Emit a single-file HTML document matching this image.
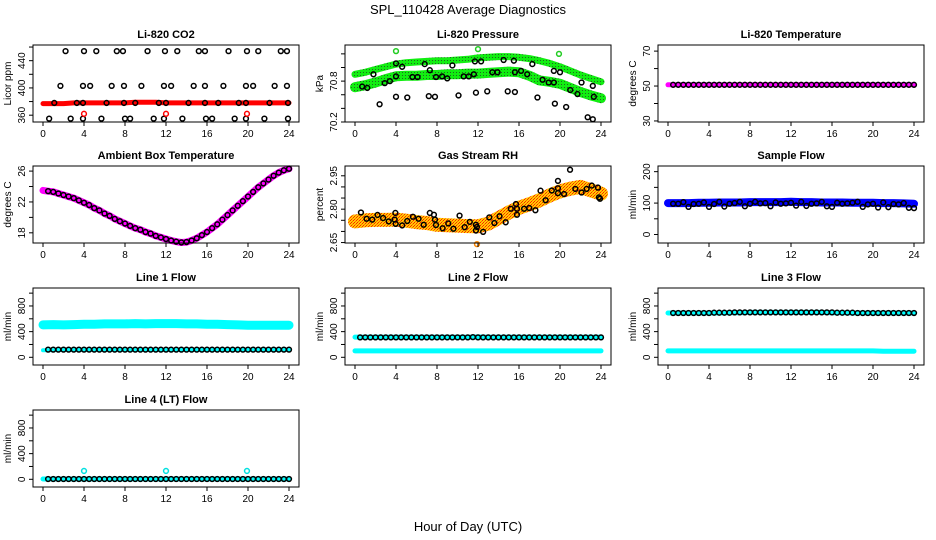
<!DOCTYPE html>
<html><head><meta charset="utf-8">
<style>
html,body{margin:0;padding:0;background:#fff;}
svg{display:block;font-family:"Liberation Sans",sans-serif;}
</style></head>
<body>
<svg id="chart" width="936" height="540" viewBox="0 0 936 540">
<defs>
<pattern id="pg" width="3" height="3" patternUnits="userSpaceOnUse"><rect width="3" height="3" fill="#11ee11"/><rect width="1" height="1" fill="#226622"/></pattern>
<pattern id="po" width="3" height="3" patternUnits="userSpaceOnUse"><rect width="3" height="3" fill="#ffcc00"/><rect width="1" height="1" fill="#ff2200"/><rect x="2" y="1" width="1" height="1" fill="#ff2200"/><rect x="1" y="2" width="1" height="1" fill="#ff6600"/></pattern>
</defs>
<text x="468" y="14" text-anchor="middle" font-size="13">SPL_110428  Average Diagnostics</text>
<text x="468" y="531" text-anchor="middle" font-size="13">Hour of Day (UTC)</text>
</svg>
<script>
// ---- data ----
const H25 = [0,1,2,3,4,5,6,7,8,9,10,11,12,13,14,15,16,17,18,19,20,21,22,23,24];
const H49 = [0,0.5,1,1.5,2,2.5,3,3.5,4,4.5,5,5.5,6,6.5,7,7.5,8,8.5,9,9.5,10,10.5,11,11.5,12,12.5,13,13.5,14,14.5,15,15.5,16,16.5,17,17.5,18,18.5,19,19.5,20,20.5,21,21.5,22,22.5,23,23.5,24];
const H48 = H49.slice(1);

const co2Band = [377,377,377,378,378,378,378,378,378,379,379,379,378,378,378,378,378,378,378,378,378,378,378,378,378];
const co2Hours = [2.2,4.0,5.2,7.2,7.8,10.2,11.9,13.1,15.2,15.8,18.1,19.9,21.0,23.2,23.8,
 1.7,3.9,4.6,6.7,7.9,9.6,11.8,12.5,14.7,15.8,17.6,19.8,20.5,22.6,23.8,
 1.1,3.3,3.9,6.2,7.9,9.0,11.3,12.0,14.2,15.8,17.1,19.1,19.8,22.1,23.9,
 0.6,2.7,3.9,5.7,8.0,8.5,10.8,11.8,13.6,15.9,16.5,18.7,19.8,21.6,23.9];
const co2Vals = [454,454,454,454,454,454,454,454,454,454,454,454,454,454,454,
 403,403,403,403,403,403,403,403,403,403,403,403,403,403,403,
 378,378,378,378,378,378,378,378,378,378,378,378,378,378,378,
 355,355,355,355,355,355,355,355,355,355,355,355,355,355,355];
const co2RedHours = [4.0,12.0,19.9];
const co2RedVals = [362,362,362];

const presUpper = [70.90,70.93,70.97,71.01,71.05,71.07,71.08,71.09,71.10,71.10,71.11,71.12,71.14,71.15,71.16,71.16,71.15,71.13,71.10,71.06,71.01,70.95,70.89,70.84,70.79];
const presLower = [70.71,70.74,70.78,70.83,70.87,70.88,70.88,70.89,70.89,70.90,70.90,70.91,70.91,70.92,70.93,70.94,70.93,70.88,70.81,70.79,70.76,70.70,70.64,70.59,70.55];
const presHours = [0.7,1.2,1.8,2.4,2.9,3.4,4.0,4.0,4.0,4.6,5.1,5.6,6.1,6.8,7.2,7.3,7.8,7.9,8.5,9.0,9.5,10.1,10.6,11.1,11.6,11.7,11.8,12.3,12.9,13.4,13.9,14.5,14.9,15.5,15.6,15.6,16.2,16.8,17.3,17.8,18.3,18.9,19.4,19.4,19.5,20.0,20.6,21.0,21.7,22.1,22.7,23.2,23.2,23.3];
const presVals = [70.72,70.70,70.90,70.46,70.77,70.80,71.06,70.87,70.57,71.01,70.56,70.86,70.86,71.05,70.58,70.96,70.57,70.86,70.87,70.84,71.03,70.59,70.87,70.87,70.90,71.09,70.63,71.09,70.65,70.93,70.93,71.11,70.65,71.10,70.93,70.64,70.95,70.90,71.05,70.56,70.82,70.78,70.78,70.95,70.47,70.93,70.42,70.67,70.61,70.78,70.27,70.24,70.73,70.57];
const presGreenHours = [4.0,12.0,19.9];
const presGreenVals = [71.24,71.27,71.20];

const licorTemp = [50.7,50.7,50.7,50.7,50.7,50.7,50.7,50.7,50.7,50.7,50.7,50.7,50.7,50.7,50.7,50.7,50.7,50.7,50.7,50.7,50.7,50.7,50.7,50.7,50.7,50.7,50.7,50.7,50.7,50.7,50.7,50.7,50.7,50.7,50.7,50.7,50.7,50.7,50.7,50.7,50.7,50.7,50.7,50.7,50.7,50.7,50.7,50.7,50.7];

const ambTemp = [23.5,23.4,23.3,23.1,22.9,22.7,22.5,22.2,21.9,21.6,21.2,20.9,20.5,20.2,19.8,19.5,19.2,18.9,18.6,18.4,18.1,17.9,17.6,17.4,17.2,17.0,16.85,16.75,16.8,17.0,17.3,17.7,18.1,18.6,19.1,19.7,20.3,20.9,21.5,22.1,22.7,23.3,23.9,24.4,24.9,25.4,25.8,26.1,26.3];

const rhBand = [2.745,2.750,2.752,2.752,2.753,2.748,2.742,2.738,2.730,2.728,2.726,2.724,2.723,2.735,2.760,2.785,2.806,2.822,2.840,2.862,2.880,2.892,2.900,2.885,2.870];
const rhHours = [0.58,1.13,1.68,2.2,2.74,3.29,3.87,3.94,3.97,4.6,5.1,5.65,6.2,6.7,7.3,7.7,7.8,7.9,8.55,9.1,9.6,10.2,10.7,11.2,11.8,11.9,11.8,12.5,13.1,13.6,14.1,14.7,15.2,15.7,15.8,15.8,16.5,17.0,17.6,18.1,18.6,19.2,19.8,19.8,19.8,20.4,20.98,21.5,22.1,22.6,23.1,23.7,23.8,23.9];
const rhVals = [2.785,2.757,2.753,2.774,2.760,2.745,2.753,2.783,2.734,2.727,2.747,2.766,2.757,2.730,2.783,2.775,2.753,2.729,2.714,2.736,2.712,2.771,2.719,2.743,2.730,2.720,2.704,2.698,2.763,2.738,2.768,2.741,2.802,2.823,2.775,2.802,2.802,2.805,2.795,2.883,2.840,2.884,2.927,2.894,2.872,2.868,2.977,2.891,2.875,2.891,2.906,2.897,2.853,2.847];
const rhOrangeHours = [11.9];
const rhOrangeVals = [2.643];

const sampleBand = [100,100,100,101,101,102,102,102,103,103,103,103,104,103,103,102,102,102,101,101,101,100,100,99,98];
const sampleCircles = [98,98,103,88,97,98,102,88,97,104,89,98,100,104,90,98,104,99,100,90,102,98,99,101,92,104,91,98,99,104,90,88,101,98,99,101,104,88,96,98,86,102,87,97,96,100,85,84,96];

const l1Upper = [505,510,505,510,515,515,520,520,520,525,520,525,525,525,520,520,515,515,510,505,500,500,500,500,500];
const l1Lower = [110,112,115,115,115,115,115,115,115,115,115,115,115,115,115,115,115,115,115,115,115,115,115,115,115];
const l1Circles = [120,120,120,120,120,120,120,120,120,120,120,120,120,120,120,120,120,120,120,120,120,120,120,120,120,120,120,120,120,120,120,120,120,120,120,120,120,120,120,120,120,120,120,120,120,120,120,120];

const l2Upper = [315,315,315,315,315,315,315,315,315,315,315,315,318,315,315,315,315,315,315,315,315,315,315,315,315];
const l2Lower = [100,100,100,100,100,100,100,100,100,100,100,100,100,100,100,100,100,100,100,100,100,100,100,100,100];
const l2Circles = [310,310,310,310,310,310,310,310,310,310,310,310,310,310,310,310,310,310,310,310,310,310,315,310,310,310,310,310,310,310,310,310,310,310,310,310,310,310,310,310,310,310,310,310,310,310,310,310];

const l3Upper = [690,690,690,690,690,690,695,695,700,700,700,700,700,700,700,700,695,695,690,690,690,690,690,690,690];
const l3Lower = [100,100,100,100,100,100,100,100,100,100,100,100,100,100,100,100,100,100,100,100,100,95,95,95,95];
const l3Circles = [690,690,690,690,690,690,690,690,695,695,695,695,700,700,700,700,700,700,700,700,700,700,700,700,700,700,700,700,700,700,700,700,695,695,695,695,690,690,690,690,690,690,690,690,690,690,690,690];

const l4Band = [5,5,5,5,5,5,5,5,5,5,5,5,5,5,5,5,5,5,5,5,5,5,5,5,5];
const l4Circles = [5,5,5,5,5,5,5,5,5,5,5,5,5,5,5,5,5,5,5,5,5,5,5,5,5,5,5,5,5,5,5,5,5,5,5,5,5,5,5,5,5,5,5,5,5,5,5,5];
const l4CyanHours = [4.0,12.0,19.9];
const l4CyanVals = [130,130,130];

const xTicks = [0,4,8,12,16,20,24];

// ---- drawing ----
const NS = "http://www.w3.org/2000/svg";
const svg = document.getElementById('chart');
const COLS = [33,345,658];
const ROWS = [45,166,288,410];
const BW = 266, BH = 77;
function mk(tag, attrs, parent){
  const e = document.createElementNS(NS, tag);
  for (const k in attrs) e.setAttribute(k, attrs[k]);
  (parent||svg).appendChild(e);
  return e;
}
function panel(p){
  const L = COLS[p.col], T = ROWS[p.row];
  const g = mk('g', {});
  
  
  const xs = h => L + 10 + h * (BW - 20) / 24;
  const ys = v => T + BH - (v - p.ymin) / (p.ymax - p.ymin) * BH;
  p.draw(g, xs, ys);
  const box = mk('rect', {x:L, y:T, width:BW, height:BH, fill:'none', stroke:'#000', 'stroke-width':1}, g);
  
  
  const t = mk('text', {x:L+BW/2, y:T-7, 'text-anchor':'middle', 'font-size':11, 'font-weight':'bold'}, g);
  t.textContent = p.title;
  
  
  const yl = mk('text', {transform:`translate(${L-22},${T+BH/2}) rotate(-90)`, 'text-anchor':'middle', 'font-size':10}, g);
  yl.textContent = p.ylab;
  
  
  mk('line', {x1:xs(0), x2:xs(24), y1:T+BH, y2:T+BH, stroke:'#000'}, g);
  xTicks.forEach(h => {
    mk('line', {x1:xs(h), x2:xs(h), y1:T+BH, y2:T+BH+4, stroke:'#000'}, g);
    const tx = mk('text', {x:xs(h), y:T+BH+15, 'text-anchor':'middle', 'font-size':10}, g);
    tx.textContent = h;
    
    
  });
  p.yticks.forEach(v => {
    mk('line', {x1:L-4, x2:L, y1:ys(v), y2:ys(v), stroke:'#000'}, g);
  });
  p.ylabels.forEach(v => {
    const tx = mk('text', {transform:`translate(${L-8},${ys(v)}) rotate(-90)`, 'text-anchor':'middle', 'font-size':10}, g);
    tx.textContent = v;
    
    
  });
}
function band(g, xs, ys, hours, vals, color, w){
  const pts = hours.map((h,i) => xs(h).toFixed(1)+','+ys(vals[i]).toFixed(1)).join(' ');
  const pl = mk('polyline', {points:pts, fill:'none', stroke:color, 'stroke-width':w, 'stroke-linejoin':'round', 'stroke-linecap':'round'}, g);
  
  
}
function circles(g, xs, ys, hours, vals, color){
  hours.forEach((h,i) => {
    const c = mk('circle', {cx:xs(h), cy:ys(vals[i]), r:2.4, fill:'none', stroke:color||'#000', 'stroke-width':1.5}, g);
    
    
  });
}

panel({name:'co2-panel', col:0,row:0,ymin:350,ymax:463,title:'Li-820 CO2',ylab:'Licor ppm',
  yticks:[360,380,400,420,440,460], ylabels:[360,400,440],
  draw:(g,xs,ys)=>{ band(g,xs,ys,H25,co2Band,'#ff0000',5); circles(g,xs,ys,co2Hours,co2Vals); circles(g,xs,ys,co2RedHours,co2RedVals,'#ff0000'); }});
panel({name:'pressure-panel', col:1,row:0,ymin:70.2,ymax:71.33,title:'Li-820 Pressure',ylab:'kPa',
  yticks:[70.2,70.4,70.6,70.8,71.0,71.2], ylabels:[70.2,70.8],
  draw:(g,xs,ys)=>{ band(g,xs,ys,H25,presUpper,'url(#pg)',7); band(g,xs,ys,H25,presLower,'url(#pg)',10); circles(g,xs,ys,presHours,presVals); circles(g,xs,ys,presGreenHours,presGreenVals,'#22cc22'); }});
panel({name:'licor-temperature-panel', col:2,row:0,ymin:29.4,ymax:73.5,title:'Li-820 Temperature',ylab:'degrees C',
  yticks:[30,40,50,60,70], ylabels:[30,50,70],
  draw:(g,xs,ys)=>{ band(g,xs,ys,H49,licorTemp,'#ff00ff',5); circles(g,xs,ys,H48,licorTemp.slice(1)); }});
panel({name:'ambient-temperature-panel', col:0,row:1,ymin:16.68,ymax:26.66,title:'Ambient Box Temperature',ylab:'degrees C',
  yticks:[18,20,22,24,26], ylabels:[18,22,26],
  draw:(g,xs,ys)=>{ band(g,xs,ys,H49,ambTemp,'#ff00ff',7); circles(g,xs,ys,H48,ambTemp.slice(1)); }});
panel({name:'rh-panel', col:1,row:1,ymin:2.648,ymax:2.994,title:'Gas Stream RH',ylab:'percent',
  yticks:[2.65,2.70,2.75,2.80,2.85,2.90,2.95], ylabels:['2.65','2.80','2.95'],
  draw:(g,xs,ys)=>{ band(g,xs,ys,H25,rhBand,'url(#po)',14); circles(g,xs,ys,rhHours,rhVals); circles(g,xs,ys,rhOrangeHours,rhOrangeVals,'#ff8800'); }});
panel({name:'sample-flow-panel', col:2,row:1,ymin:-27,ymax:218,title:'Sample Flow',ylab:'ml/min',
  yticks:[0,50,100,150,200], ylabels:[0,100,200],
  draw:(g,xs,ys)=>{ band(g,xs,ys,H25,sampleBand,'#0000ff',8); circles(g,xs,ys,H48,sampleCircles); }});
const flowTicks=[0,200,400,600,800,1000], flowLabels=[0,400,800];
panel({name:'line1-flow-panel', col:0,row:2,ymin:-120,ymax:1080,title:'Line 1 Flow',ylab:'ml/min',
  yticks:flowTicks, ylabels:flowLabels,
  draw:(g,xs,ys)=>{ band(g,xs,ys,H25,l1Upper,'#00ffff',9); band(g,xs,ys,H25,l1Lower,'#00ffff',4); circles(g,xs,ys,H48,l1Circles); }});
panel({name:'line2-flow-panel', col:1,row:2,ymin:-120,ymax:1080,title:'Line 2 Flow',ylab:'ml/min',
  yticks:flowTicks, ylabels:flowLabels,
  draw:(g,xs,ys)=>{ band(g,xs,ys,H25,l2Upper,'#00ffff',5); band(g,xs,ys,H25,l2Lower,'#00ffff',5); circles(g,xs,ys,H48,l2Circles); }});
panel({name:'line3-flow-panel', col:2,row:2,ymin:-120,ymax:1080,title:'Line 3 Flow',ylab:'ml/min',
  yticks:flowTicks, ylabels:flowLabels,
  draw:(g,xs,ys)=>{ band(g,xs,ys,H25,l3Upper,'#00ffff',5); band(g,xs,ys,H25,l3Lower,'#00ffff',5); circles(g,xs,ys,H48,l3Circles); }});
panel({name:'line4-flow-panel', col:0,row:3,ymin:-120,ymax:1080,title:'Line 4 (LT) Flow',ylab:'ml/min',
  yticks:flowTicks, ylabels:flowLabels,
  draw:(g,xs,ys)=>{ band(g,xs,ys,H25,l4Band,'#00ffff',5); circles(g,xs,ys,H48,l4Circles); circles(g,xs,ys,l4CyanHours,l4CyanVals,'#00e0e0'); }});
</script>
</body></html>
